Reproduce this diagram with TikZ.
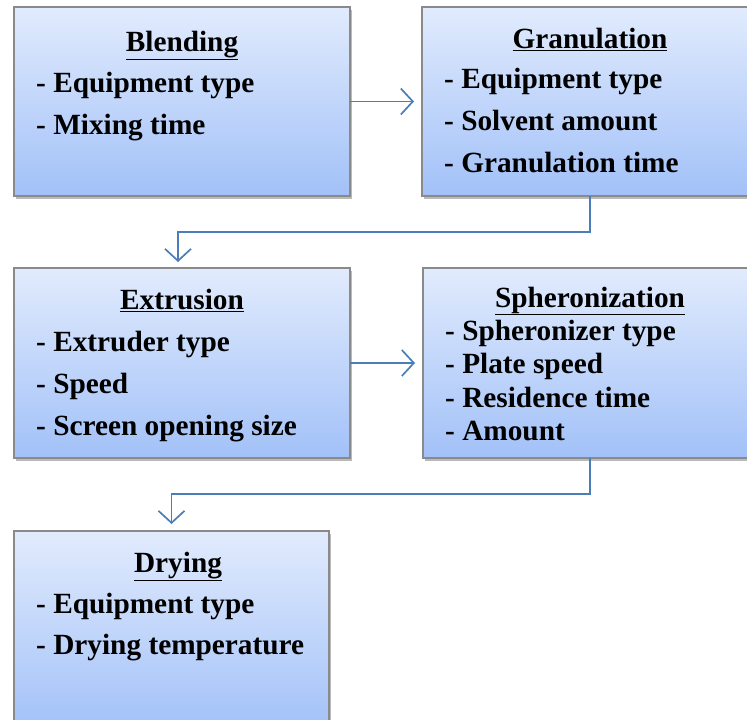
\documentclass[tikz,border=0pt]{standalone}
\usepackage{fontspec}
\setmainfont{Liberation Serif}
\usetikzlibrary{arrows.meta,shadows}
\definecolor{gtop}{HTML}{E1EBFD}
\definecolor{gbot}{HTML}{A2C1F8}
\definecolor{boxborder}{HTML}{8A8A8A}
\definecolor{arrowc}{HTML}{4A7EBB}
\tikzset{
  x=1pt, y=1pt,
  box/.style={draw=boxborder, line width=1.2pt, top color=gtop, bottom color=gbot,
    anchor=north west, inner sep=0pt, outer sep=0pt,
    drop shadow={shadow xshift=2pt, shadow yshift=-2.5pt, opacity=0.45, fill=black!60}},
  ttl/.style={anchor=base, inner sep=0pt, font=\fontsize{29.3}{31}\selectfont\bfseries},
  itm/.style={anchor=base west, inner sep=0pt, font=\fontsize{29.3}{31}\selectfont\bfseries},
  arr/.style={draw=arrowc, line width=1.7pt, -{Straight Barb[length=12pt,width=26pt,line width=1.7pt]}}
}
\begin{document}
\begin{tikzpicture}
\useasboundingbox (0,0) rectangle (747,-720);
\clip (0,0) rectangle (747,-720);
\fill[white] (0,0) rectangle (747,-720);
% boxes
\node[box, minimum width=336pt, minimum height=189pt] (blend) at (14,-7) {};
\node[box, minimum width=345pt, minimum height=189pt] (gran) at (422,-7) {};
\node[box, minimum width=336pt, minimum height=190pt] (extr) at (14,-268) {};
\node[box, minimum width=345pt, minimum height=190pt] (spher) at (423,-268) {};
\node[box, minimum width=315pt, minimum height=200pt] (dry) at (14,-531) {};
% Blending
\node[ttl] (blendT) at (182,-51) {\underline{Blending}};
\node[itm] (blend1) at (36,-92) {- Equipment type};
\node[itm] (blend2) at (36,-134) {- Mixing time};
% Granulation
\node[ttl] (granT) at (590,-48) {\underline{Granulation}};
\node[itm] (gran1) at (444,-88) {- Equipment type};
\node[itm] (gran2) at (444,-130) {- Solvent amount};
\node[itm] (gran3) at (444,-172) {- Granulation time};
% Extrusion
\node[ttl] (extrT) at (182,-309) {\underline{Extrusion}};
\node[itm] (extr1) at (36,-351) {- Extruder type};
\node[itm] (extr2) at (36,-393) {- Speed};
\node[itm] (extr3) at (36,-435) {- Screen opening size};
% Spheronization
\node[ttl] (spherT) at (590,-307) {\underline{Spheronization}};
\node[itm] (spher1) at (445,-340) {- Spheronizer type};
\node[itm] (spher2) at (445,-373) {- Plate speed};
\node[itm] (spher3) at (445,-407) {- Residence time};
\node[itm] (spher4) at (445,-440) {- Amount};
% Drying
\node[ttl] (dryT) at (178,-572) {\underline{Drying}};
\node[itm] (dry1) at (36,-613) {- Equipment type};
\node[itm] (dry2) at (36,-654) {- Drying temperature};
% connectors
\draw[arr, shorten >=8pt] (blend.east) -- (gran.west |- blend.east);
\draw[arr, shorten >=6pt] ([xshift=-4.5pt]gran.south) -- ++(0,-36) -| ([xshift=-4pt]extr.north);
\draw[arr, shorten >=8pt] (extr.east) -- (spher.west |- extr.east);
\draw[arr, shorten >=7pt] ([xshift=-5.5pt]spher.south) -- ++(0,-36) -| (dry.north);
\end{tikzpicture}
\end{document}
